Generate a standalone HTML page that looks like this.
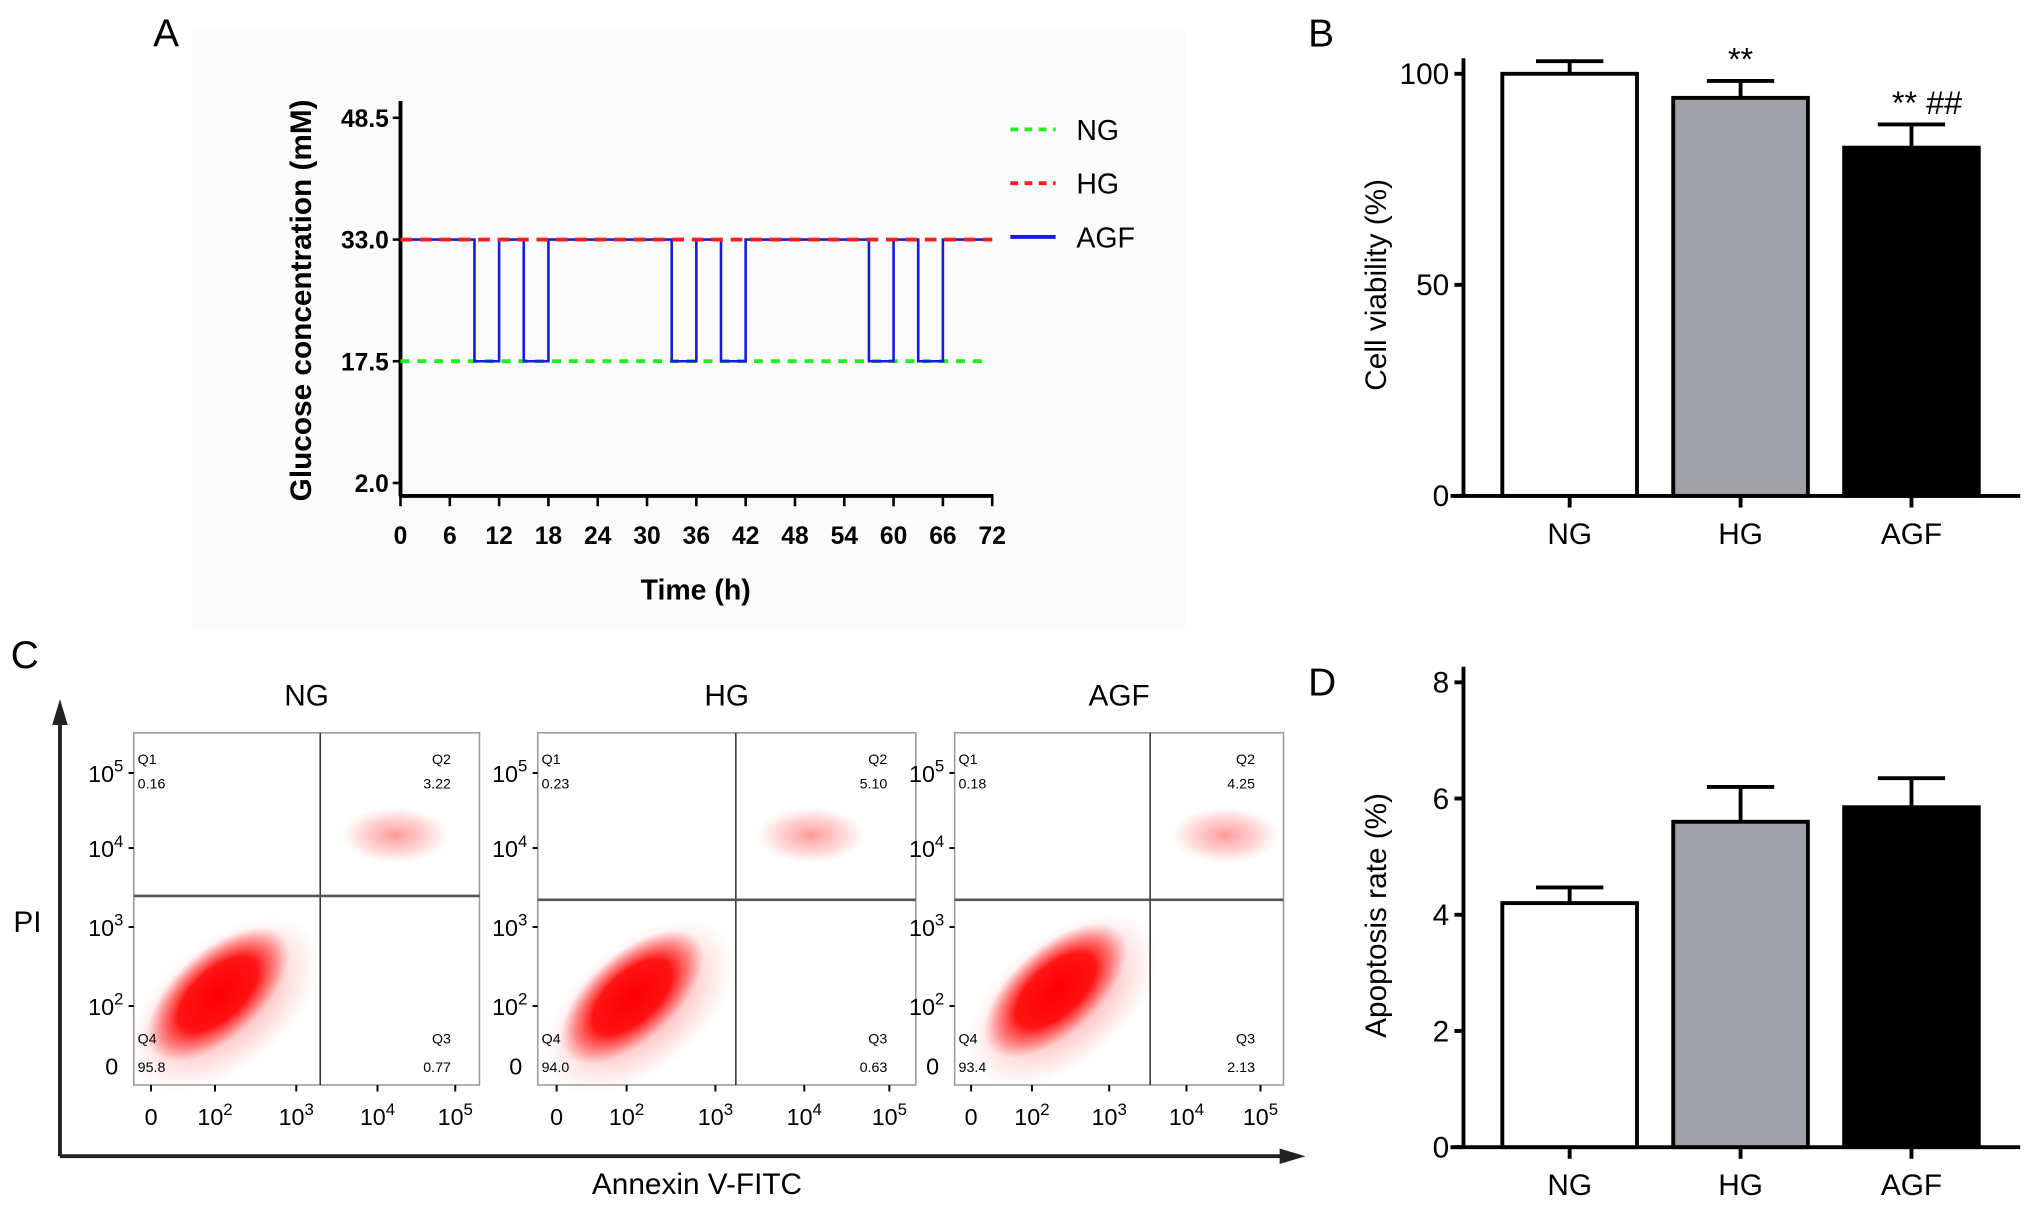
<!DOCTYPE html>
<html><head><meta charset="utf-8"><style>
html,body{margin:0;padding:0;background:#fff}
svg{display:block}
text{font-family:"Liberation Sans",Arial,sans-serif}
.nar{font-family:"Liberation Sans Narrow","Liberation Sans",sans-serif}
</style></head><body>
<svg id="fig" width="2031" height="1208" viewBox="0 0 1568 933" xmlns="http://www.w3.org/2000/svg">
<defs>
<radialGradient id="cloud" cx="50%" cy="50%" r="50%">
<stop offset="0" stop-color="#f00" stop-opacity="1"/>
<stop offset="0.55" stop-color="#f00" stop-opacity="0.9"/>
<stop offset="0.8" stop-color="#f22" stop-opacity="0.45"/>
<stop offset="1" stop-color="#f44" stop-opacity="0"/>
</radialGradient>
<radialGradient id="faint" cx="50%" cy="50%" r="50%">
<stop offset="0" stop-color="#f33" stop-opacity="0.5"/>
<stop offset="0.6" stop-color="#f55" stop-opacity="0.25"/>
<stop offset="1" stop-color="#f88" stop-opacity="0"/>
</radialGradient>
</defs>
<rect x="148" y="22" width="767" height="465" fill="#fbfbfb"/>
<text x="118" y="36" font-size="30">A</text>
<text x="1010" y="36" font-size="30">B</text>
<text x="8" y="516" font-size="30">C</text>
<text x="1010" y="537" font-size="30">D</text>
<g id="pa"></g>
<g id="pb"></g>
<g id="pc"></g>
<g id="pd"></g>
</svg>
<script>
// ---- Panel A data ----
const aXTicks=[0,6,12,18,24,30,36,42,48,54,60,66,72];
const aYTicks=[2.0,17.5,33.0,48.5];
const ngLevel=[17.5];
const hgLevel=[33.0];
const agfTimes=[0,9,9,12,12,15,15,18,18,33,33,36,36,39,39,42,42,57,57,60,60,63,63,66,66,72];
const agfValues=[33,33,17.5,17.5,33,33,17.5,17.5,33,33,17.5,17.5,33,33,17.5,17.5,33,33,17.5,17.5,33,33,17.5,17.5,33,33];
// ---- Panel B data ----
const groups=["NG","HG","AGF"];
const viability=[100,94.3,82.5];
const viabilityErr=[3,4,5.5];
const viabilityTicks=[0,50,100];
const viabilitySig=["","**","** ##"];
// ---- Panel C data ----
const fcGroups=["NG","HG","AGF"];
const fcQ1=["0.16","0.23","0.18"];
const fcQ2=["3.22","5.10","4.25"];
const fcQ3=["0.77","0.63","2.13"];
const fcQ4=["95.8","94.0","93.4"];
// ---- Panel D data ----
const apoptosis=[4.2,5.6,5.85];
const apoptosisErr=[0.27,0.6,0.5];
const apoptosisTicks=[0,2,4,6,8];

const NS="http://www.w3.org/2000/svg";
function mk(parent,tag,attrs,txt){const e=document.createElementNS(NS,tag);for(const k in attrs)e.setAttribute(k,attrs[k]);if(txt!==undefined)e.textContent=txt;parent.appendChild(e);return e;}

// Panel A
(function(){
const g=document.getElementById('pa');
const x0=309,x1=766,yb=383;
const X=t=>x0+(t-0)/(72-0)*(x1-x0);
const Y=v=>279+(v-17.5)*(185-279)/(33-17.5);
let ax=mk(g,'line',{x1:x0,y1:78,x2:x0,y2:yb,stroke:'#000','stroke-width':3});

ax=mk(g,'line',{x1:x0-1,y1:yb,x2:x1+1,y2:yb,stroke:'#000','stroke-width':3});

aYTicks.forEach(v=>{mk(g,'line',{x1:x0-6,y1:Y(v),x2:x0,y2:Y(v),stroke:'#000','stroke-width':2});
 const t=mk(g,'text',{x:x0-9,y:Y(v)+7,'text-anchor':'end','font-size':19,'font-weight':'bold',class:'nar'},v.toFixed(1));
 });
aXTicks.forEach(v=>{mk(g,'line',{x1:X(v),y1:yb,x2:X(v),y2:yb+8,stroke:'#000','stroke-width':2});
 const t=mk(g,'text',{x:X(v),y:420,'text-anchor':'middle','font-size':19,'font-weight':'bold',class:'nar'},String(v));
 });
let t=mk(g,'text',{x:537,y:463,'text-anchor':'middle','font-size':22,'font-weight':'bold',class:'nar'},'Time (h)');

t=mk(g,'text',{x:0,y:0,transform:'translate(240,232) rotate(-90)','text-anchor':'middle','font-size':23,'font-weight':'bold'},'Glucose concentration (mM)');

let l=mk(g,'line',{x1:X(0),y1:Y(ngLevel[0]),x2:X(71),y2:Y(ngLevel[0]),stroke:'#22ee22','stroke-width':3,'stroke-dasharray':'7,6'});

let pts=agfTimes.map((tt,i)=>X(tt)+','+Y(agfValues[i])).join(' ');
l=mk(g,'polyline',{points:pts,fill:'none',stroke:'#1a1adc','stroke-width':2});

l=mk(g,'line',{x1:X(0),y1:Y(hgLevel[0]),x2:X(72),y2:Y(hgLevel[0]),stroke:'#ee2222','stroke-width':3,'stroke-dasharray':'9,6'});

const leg=[['NG','#22ee22','6,5'],['HG','#ee2222','6,5'],['AGF','#1a1adc','none']];
leg.forEach((d,i)=>{const y=100+i*41.5;
 const e=mk(g,'line',{x1:780,y1:y,x2:815,y2:y,stroke:d[1],'stroke-width':3,'stroke-dasharray':d[2]});
 
 const tx=mk(g,'text',{x:831,y:y+8,'font-size':22,class:'nar'},d[0]);
 });
})();

function barChart(gid,prefix,vals,errs,ticks,yTop,yBot,vmax,title,titleY,sig){
const g=document.getElementById(gid);
const xa=1130;const Y=v=>yBot-(v/vmax)*(yBot-yTop);
const centers=[1212,1344,1476];const bw=104;const fills=['#fff','#a0a0a8','#000'];
let a=mk(g,'line',{x1:xa,y1:yTop-12,x2:xa,y2:yBot,stroke:'#000','stroke-width':3});

a=mk(g,'line',{x1:1120,y1:yBot,x2:1560,y2:yBot,stroke:'#000','stroke-width':3});

ticks.forEach(v=>{mk(g,'line',{x1:xa-7,y1:Y(v),x2:xa,y2:Y(v),stroke:'#000','stroke-width':3});
 const t=mk(g,'text',{x:xa-11,y:Y(v)+8,'text-anchor':'end','font-size':23,class:'nar'},String(v));
 });
vals.forEach((v,i)=>{const c=centers[i];
 const e=mk(g,'line',{x1:c,y1:Y(v),x2:c,y2:Y(v+errs[i]),stroke:'#000','stroke-width':3});
 
 mk(g,'line',{x1:c-26,y1:Y(v+errs[i]),x2:c+26,y2:Y(v+errs[i]),stroke:'#000','stroke-width':3});
 const r=mk(g,'rect',{x:c-bw/2,y:Y(v),width:bw,height:yBot-Y(v),fill:fills[i],stroke:'#000','stroke-width':3});
 
 mk(g,'line',{x1:c,y1:yBot,x2:c,y2:yBot+9,stroke:'#000','stroke-width':3});
 const t=mk(g,'text',{x:c,y:yBot+37,'text-anchor':'middle','font-size':23,class:'nar'},groups[i]);
 
 if(sig&&sig[i]){const s=mk(g,'text',{x:c+(sig[i].length>2?12:0),y:Y(v+errs[i])-8,'text-anchor':'middle','font-size':25,class:'nar'},sig[i]);
  }
});
const t=mk(g,'text',{x:0,y:0,transform:'translate(1070,'+titleY+') rotate(-90)','text-anchor':'middle','font-size':23},title);

}
barChart('pb','b',viability,viabilityErr,viabilityTicks,57,383,100,'Cell viability (%)',220,viabilitySig);
barChart('pd','d',apoptosis,apoptosisErr,apoptosisTicks,527,886,8,'Apoptosis rate (%)',707,null);

// Panel C
(function(){
const g=document.getElementById('pc');
let a=mk(g,'line',{x1:46,y1:893,x2:46,y2:555,stroke:'#222','stroke-width':3});

mk(g,'polygon',{points:'46,540 40,560 52,560',fill:'#222'});
a=mk(g,'line',{x1:46,y1:893,x2:990,y2:893,stroke:'#222','stroke-width':3});

mk(g,'polygon',{points:'1008,893 988,887 988,899',fill:'#222'});
let t=mk(g,'text',{x:10,y:720,'font-size':23,class:'nar'},'PI');

t=mk(g,'text',{x:538,y:922,'text-anchor':'middle','font-size':23,class:'nar'},'Annexin V-FITC');

const boxes=[[103,370,247,692],[415,707,568,695],[737,991,888,695]];
const clouds=[[168,768],[488,770],[815,765]];
boxes.forEach((b,i)=>{const [L,R,qx,qy]=b;const T=566,B=838;
 const sub=mk(g,'g',{});
 const tt=mk(sub,'text',{x:(L+R)/2,y:545,'text-anchor':'middle','font-size':23,class:'nar'},fcGroups[i]);
 
 mk(sub,'rect',{x:L,y:T,width:R-L,height:B-T,fill:'#fff',stroke:'#999','stroke-width':1.2});
 const [cx,cy]=clouds[i];
 mk(sub,'ellipse',{cx:cx+5,cy:cy+8,rx:88,ry:50,fill:'url(#faint)',transform:'rotate(-40 '+(cx+5)+' '+(cy+8)+')'});
 mk(sub,'ellipse',{cx:cx,cy:cy,rx:68,ry:34,fill:'url(#cloud)',transform:'rotate(-42 '+cx+' '+cy+')'});
 mk(sub,'ellipse',{cx:qx+58,cy:645,rx:42,ry:22,fill:'url(#faint)'});
 mk(sub,'line',{x1:qx,y1:T,x2:qx,y2:B,stroke:'#333','stroke-width':1.2});
 mk(sub,'line',{x1:L,y1:qy,x2:R,y2:qy,stroke:'#555','stroke-width':2});
 const fs=11;
 mk(sub,'text',{x:L+3,y:590,'font-size':fs},'Q1');
 mk(sub,'text',{x:L+3,y:609,'font-size':fs},fcQ1[i]);
 mk(sub,'text',{x:R-22,y:590,'font-size':fs,'text-anchor':'end'},'Q2');
 mk(sub,'text',{x:R-22,y:609,'font-size':fs,'text-anchor':'end'},fcQ2[i]);
 mk(sub,'text',{x:L+3,y:806,'font-size':fs},'Q4');
 mk(sub,'text',{x:L+3,y:828,'font-size':fs},fcQ4[i]);
 mk(sub,'text',{x:R-22,y:806,'font-size':fs,'text-anchor':'end'},'Q3');
 mk(sub,'text',{x:R-22,y:828,'font-size':fs,'text-anchor':'end'},fcQ3[i]);
 const yl=[['5',597],['4',655],['3',716],['2',777]];
 yl.forEach(d=>{const e=mk(sub,'text',{x:L-8,y:d[1]+7,'font-size':18,'text-anchor':'end',class:'nar'});
  e.innerHTML='10<tspan dy="-8" font-size="13">'+d[0]+'</tspan>';mk(sub,'line',{x1:L-4,y1:d[1],x2:L,y2:d[1],stroke:'#000','stroke-width':1.5});});
 mk(sub,'text',{x:L-12,y:830,'font-size':18,'text-anchor':'end',class:'nar'},'0');
 const w=R-L;const xs=[0.05,0.235,0.47,0.705,0.93];
 xs.forEach((f,k)=>{const x=L+f*w;mk(sub,'line',{x1:x,y1:B,x2:x,y2:B+5,stroke:'#000','stroke-width':1.5});
  const e=mk(sub,'text',{x:x,y:869,'font-size':18,'text-anchor':'middle',class:'nar'});
  if(k===0)e.textContent='0';else e.innerHTML='10<tspan dy="-8" font-size="13">'+(k+1)+'</tspan>';});
});
})();
</script>
</body></html>
